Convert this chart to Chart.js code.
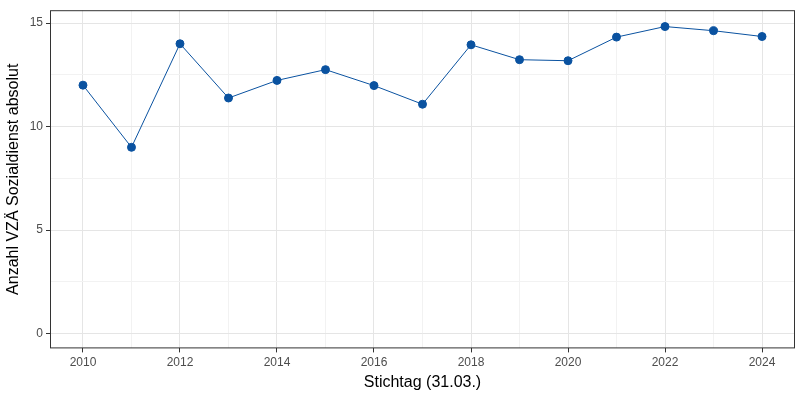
<!DOCTYPE html><html><head><script src="https://cdn.jsdelivr.net/npm/chart.js@4"></script>
<style>body{margin:0}#w{width:800px;height:400px}</style></head><body><div id="w"><canvas id="c"></canvas></div>
<script>
const years=[2010,2011,2012,2013,2014,2015,2016,2017,2018,2019,2020,2021,2022,2023,2024];
const values=[12.0,9.0,14.0,11.38,12.23,12.75,11.98,11.08,13.95,13.23,13.18,14.32,14.83,14.63,14.35];
const yTicks=[0,5,10,15];
const box={id:'box',afterDraw(c){const a=c.chartArea,x=c.ctx;x.save();x.strokeStyle='#333';x.lineWidth=1;x.strokeRect(a.left+.5,a.top+.5,a.right-a.left-1,a.bottom-a.top-1);x.restore();}};
new Chart(document.getElementById('c'),{type:'line',
data:{datasets:[{data:years.map((y,i)=>({x:y,y:values[i]})),borderColor:'#0a52a0',backgroundColor:'#0a52a0',borderWidth:1,pointRadius:4,pointHoverRadius:4,tension:0}]},
options:{responsive:true,maintainAspectRatio:false,animation:false,layout:{padding:{top:0,right:0,left:0,bottom:4}},
plugins:{legend:{display:false},tooltip:{enabled:false}},
scales:{
x:{type:'linear',min:2009.32,max:2024.68,afterBuildTicks(s){s.ticks=[];for(let y=2010;y<=2024;y++)s.ticks.push({value:y});},
ticks:{autoSkip:false,maxRotation:0,color:'#4d4d4d',font:{family:'Liberation Sans',size:12},callback:v=>v%2===0?String(v):''},
grid:{color:c=>c.tick&&c.tick.value%2===0?'#e5e5e5':'#f2f2f2',tickColor:c=>c.tick&&c.tick.value%2===0?'#333':'transparent',tickLength:4,drawTicks:true},border:{display:false},
title:{display:true,text:'Stichtag (31.03.)',color:'#000',font:{family:'Liberation Sans',size:16},padding:{top:0}}},
y:{min:-0.71,max:15.62,afterBuildTicks(s){s.ticks=[];for(let v=0;v<=15;v+=2.5)s.ticks.push({value:v});},
afterFit(s){s.width=50;},
ticks:{autoSkip:false,color:'#4d4d4d',font:{family:'Liberation Sans',size:12},callback:v=>v%5===0?String(v):''},
grid:{color:c=>c.tick&&c.tick.value%5===0?'#e5e5e5':'#f2f2f2',tickColor:c=>c.tick&&c.tick.value%5===0?'#333':'transparent',tickLength:4},border:{display:false},
title:{display:true,text:'Anzahl VZÄ Sozialdienst absolut',color:'#000',font:{family:'Liberation Sans',size:16},padding:{bottom:2}}}}},
plugins:[box]});
</script></body></html>
